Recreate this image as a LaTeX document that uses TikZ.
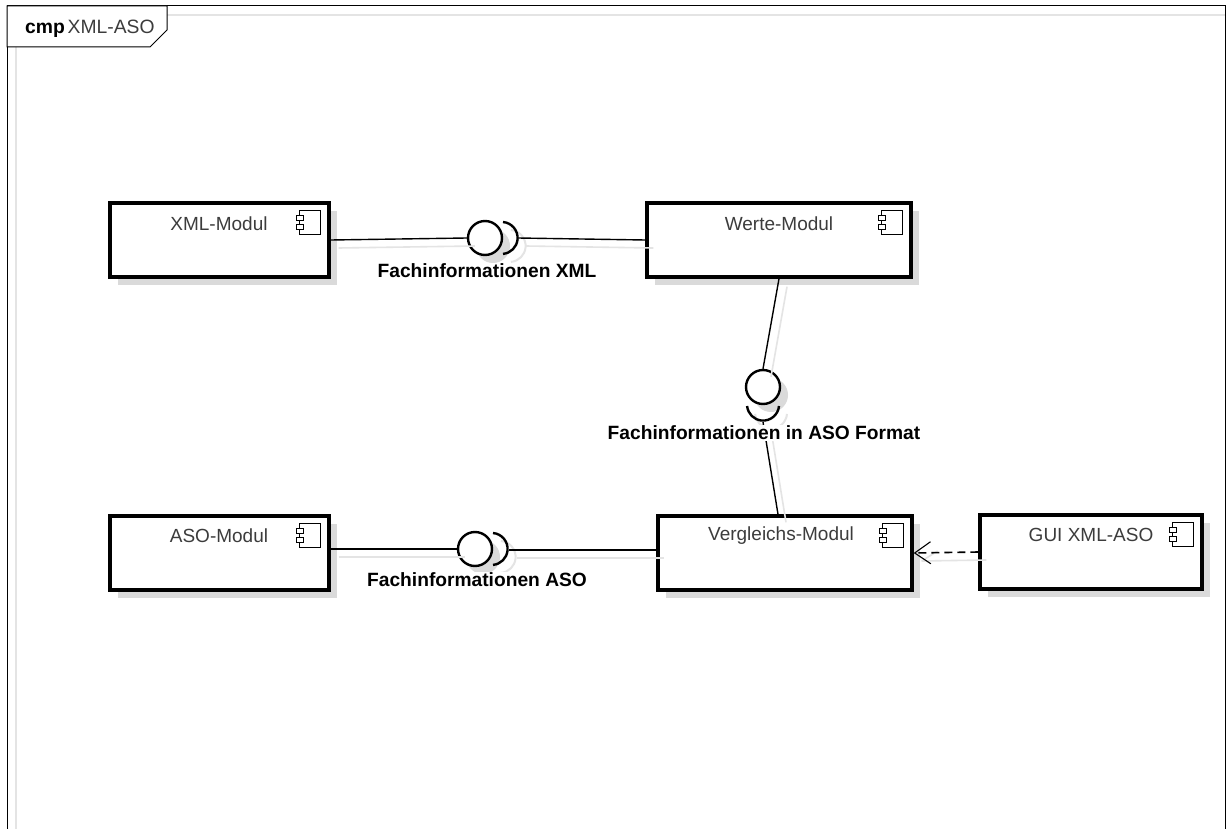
\documentclass[tikz,border=0pt]{standalone}
\usepackage{fontspec}
\setmainfont{Liberation Sans}
\usepackage{xcolor}
\usetikzlibrary{arrows.meta, shadows}
\definecolor{shadowgray}{RGB}{218,218,218}
\definecolor{shadowline}{RGB}{228,228,228}
\definecolor{titlegray}{RGB}{60,60,60}
\tikzset{
  frameline/.style={black, line width=1pt},
  frameshadow/.style={shadowline, line width=2pt},
  compbox/.style={draw=black, line width=3.4pt, fill=white, minimum height=74pt, inner sep=0pt,
    drop shadow={shadow xshift=8pt, shadow yshift=-8pt, fill=shadowgray, opacity=1}},
  comptitle/.style={titlegray, font=\fontsize{19}{21}\selectfont, inner sep=0pt},
  ifacelabel/.style={font=\fontsize{19.2}{21}\selectfont\bfseries, fill=white, inner sep=0.5pt},
  lolly/.style={circle, draw=black, line width=2.4pt, fill=white, minimum size=34pt, inner sep=0pt,
    drop shadow={shadow xshift=8pt, shadow yshift=-8pt, fill=shadowgray, opacity=1}},
  socket/.style={black, line width=2.4pt},
  socketshadow/.style={shadowline, line width=2pt},
  link/.style={black, line width=1.4pt},
  linkshadow/.style={shadowline, line width=1.6pt},
  deplink/.style={black, line width=1.6pt, dash pattern=on 8pt off 5pt,
    -{Straight Barb[length=16pt, width=22pt, line width=1.1pt]}},
  sh/.style={xshift=8pt, yshift=-8pt}
}
\newcommand{\compicon}[1]{
  \draw[black, line width=0.8pt, fill=white] ([shift={(-31pt,-9pt)}]#1.north east) rectangle ([shift={(-10pt,-33pt)}]#1.north east);
  \draw[black, line width=0.8pt, fill=white] ([shift={(-34pt,-14pt)}]#1.north east) rectangle ([shift={(-27pt,-19pt)}]#1.north east);
  \draw[black, line width=0.8pt, fill=white] ([shift={(-34pt,-23pt)}]#1.north east) rectangle ([shift={(-27pt,-28pt)}]#1.north east);
}
\begin{document}
\begin{tikzpicture}[x=1pt, y=-1pt]
  \useasboundingbox (0,0) rectangle (1232,829);
  \fill[white] (0,0) rectangle (1232,829);

  \draw[frameshadow] (16,829) -- (16,15) -- (1225,15);
  \draw[frameline] (7,829) -- (7,6) -- (1225,6) -- (1225,829);
  \draw[frameline, fill=white] (7,6) -- (167,6) -- (167,30) -- (150,47) -- (7,47) -- cycle;
  \node (frametitle) [anchor=west, inner sep=0pt, font=\fontsize{19.3}{21}\selectfont] at (25,29)
    {\textbf{cmp} \hspace{-2.5pt}\textcolor{titlegray}{XML-ASO}};

  % components
  \node (xmlmodul) [compbox, minimum width=219pt] at (219.5,240) {};
  \node (wertemodul) [compbox, minimum width=264pt] at (779,240) {};
  \node (asomodul) [compbox, minimum width=219pt] at (219.5,553) {};
  \node (vergleichsmodul) [compbox, minimum width=254pt] at (785,553) {};
  \node (guimodul) [compbox, minimum width=222pt] at (1091,552) {};
  \node (xmltitle) [comptitle] at (219,224) {XML-Modul};
  \node (wertetitle) [comptitle] at (779,224) {Werte-Modul};
  \node (asotitle) [comptitle] at (219,536) {ASO-Modul};
  \node (vergleichstitle) [comptitle] at (781,536) {Vergleichs-Modul};
  \node (guititle) [comptitle] at (1091,535) {GUI XML-ASO};
  \compicon{xmlmodul}
  \compicon{wertemodul}
  \compicon{asomodul}
  \compicon{vergleichsmodul}
  \compicon{guimodul}

  % interfaces
  \node (ifacexml) [lolly] at (485,238) {};
  \node (ifaceformat) [lolly] at (763,387) {};
  \node (ifaceaso) [lolly] at (475,549) {};
  \coordinate (sockxml) at (518,238);
  \coordinate (sockformat) at (763,422);
  \coordinate (sockaso) at (509,550);
  \coordinate (asoport) at (ifaceaso.west -| asomodul.east);
  \coordinate (vergleichsport) at (sockaso -| vergleichsmodul.west);

  % connector shadows
  \draw[linkshadow] ([sh]xmlmodul.east) -- ([sh]ifacexml.west);
  \draw[linkshadow] ([sh]sockxml) -- ([sh]wertemodul.west);
  \draw[linkshadow] ([sh]wertemodul.south) -- ([sh]ifaceformat.north);
  \draw[linkshadow] ([sh]sockformat) -- ([sh,xshift=-7pt]vergleichsmodul.north);
  \draw[linkshadow] ([sh]asoport) -- ([sh]ifaceaso.west);
  \draw[linkshadow] ([sh]sockaso) -- ([sh]vergleichsport);
  \draw[linkshadow] ([sh]guimodul.west) -- ([sh]vergleichsmodul.east);
  \draw[linkshadow] ([sh]vergleichsmodul.east) -- +(16pt,10pt);
  \draw[socketshadow] (511,230) arc (85:-85:16pt);
  \draw[socketshadow] (787,414) arc (-5:-175:16pt);
  \draw[socketshadow] (501,541) arc (85:-85:16pt);

  % sockets
  \draw[socket] (503,222) arc (85:-85:16pt);
  \draw[socket] (779,406) arc (-5:-175:16pt);
  \draw[socket] (493,533) arc (85:-85:16pt);

  % connectors
  \draw[link] (xmlmodul.east) -- (ifacexml.west);
  \draw[link] (sockxml) -- (wertemodul.west);
  \draw[link] (wertemodul.south) -- (ifaceformat.north);
  \draw[link] (sockformat) -- ([xshift=-7pt]vergleichsmodul.north);
  \draw[link] (asoport) -- (ifaceaso.west);
  \draw[link] (sockaso) -- (vergleichsport);
  \draw[deplink] (guimodul.west) -- (vergleichsmodul.east);

  % interface labels
  \node (labelxml) [ifacelabel] at (487,271) {Fachinformationen XML};
  \node (labelformat) [ifacelabel] at (764,433) {Fachinformationen in ASO Format};
  \node (labelaso) [ifacelabel] at (477,580) {Fachinformationen ASO};
\end{tikzpicture}
\end{document}
